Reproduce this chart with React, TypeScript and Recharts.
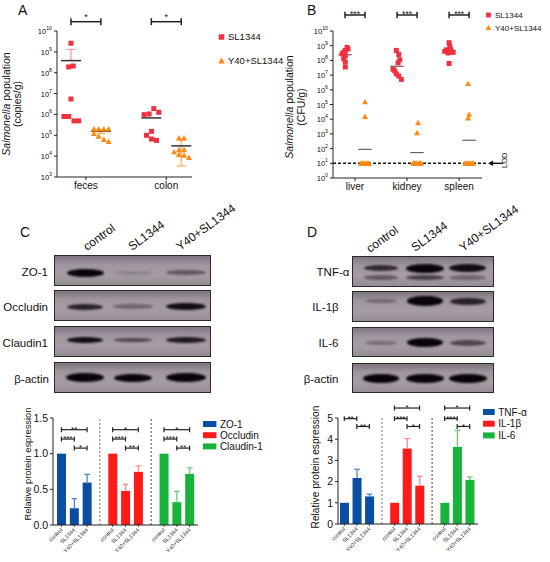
import React from 'react';
import {
  ScatterChart, Scatter, XAxis, YAxis, ReferenceLine, ReferenceDot,
  BarChart, Bar, Legend,
} from 'recharts';

const FONT = "Arial, 'Liberation Sans', Helvetica, sans-serif";

// ---------------- Panel A data ----------------
const A_CATEGORIES = ['feces', 'colon'];
const A_SERIES = ['SL1344', 'Y40+SL1344'];
const A_TICKS = [1e3, 1e4, 1e5, 1e6, 1e7, 1e8, 1e9, 1e10];
const A_FECES_SL = [2.6e9, 1.9e8, 2.1e8, 5.5e6, 8e5, 8e5, 4.9e5, 4.9e5];
const A_FECES_Y40 = [2.0e5, 2.0e5, 2.0e5, 2.0e5, 1.2e5, 9e4, 6.2e4, 5e4];
const A_COLON_SL = [9.8e5, 1.05e6, 1.9e6, 1.26e6, 1.0e5, 1.55e5, 6.6e4, 5.7e4];
const A_COLON_Y40 = [7.4e4, 7.4e4, 1.6e4, 2.0e4, 2.0e4, 1.2e4, 1.1e4, 8.5e3];
const A_MEAN_SL = [3.8e8, 6.8e5];
const A_MEAN_Y40 = [1.55e5, 3.1e4];
const A_ERR_SL = [[3.8e8, 1.3e9], null];
const A_ERR_Y40 = [[1.2e5, 1.9e5], [3.4e3, 6e4]];
const A_SIG = ['*', '*'];
const A_SIG_LEVEL = 10.446; // log10 of bracket height

// ---------------- Panel B data ----------------
const B_CATEGORIES = ['liver', 'kidney', 'spleen'];
const B_TICKS = [1, 1e1, 1e2, 1e3, 1e4, 1e5, 1e6, 1e7, 1e8, 1e9, 1e10];
const B_LIVER_SL = [7.7e8, 4.7e8, 6e8, 2.8e8, 3.6e8, 2.1e8, 1.3e8, 7.8e7, 3.6e7];
const B_LIVER_Y40 = [1.5e5, 1.5e4, 10, 10, 10, 10, 10, 10, 10];
const B_KIDNEY_SL = [4.8e8, 2.5e8, 1.1e8, 6.8e7, 1.9e7, 1.2e7, 8.5e6, 5.1e6, 2.5e7];
const B_KIDNEY_Y40 = [5.7e3, 1.2e3, 10, 10, 10, 10, 10, 10, 10];
const B_SPLEEN_SL = [1.6e9, 8.9e8, 5.2e8, 4.1e8, 3.2e8, 3.5e8, 4.1e8, 6.2e7, 5.5e8];
const B_SPLEEN_Y40 = [2.6e6, 2.1e4, 1.2e4, 10, 10, 10, 10, 10, 10];
const B_MEAN_SL = [2.4e8, 4e7, 4.5e8];
const B_MEAN_Y40 = [90, 53, 370];
const B_SIG = ['***', '***', '***'];
const B_LOD = 10;
const B_SIG_LEVEL = 11.09;

// ---------------- Panel C data ----------------
const LANES = ['control', 'SL1344', 'Y40+SL1344'];
const C_PROTEINS = ['ZO-1', 'Occludin', 'Claudin-1'];
const C_MEANS = [[1, 0.235, 0.595], [1, 0.478, 0.745], [1, 0.32, 0.717]];
const C_ERR = [[0, 0.135, 0.115], [0, 0.092, 0.085], [0, 0.15, 0.083]];
// [control vs Y40, control vs SL, SL vs Y40]
const C_SIG = [['**', '***', '*'], ['*', '***', '**'], ['*', '***', '**']];
const C_SIG_Y = [1.336, 1.205, 1.078];
const C_YTICKS = [0, 0.5, 1, 1.5];

// ---------------- Panel D data ----------------
const D_PROTEINS = ['TNF-α', 'IL-1β', 'IL-6'];
const D_MEANS = [[1, 2.17, 1.3], [1, 3.56, 1.81], [1, 3.64, 2.08]];
const D_ERR = [[0, 0.41, 0.11], [0, 0.47, 0.44], [0, 0.78, 0.14]];
const D_SIG = [[null, '**', '**'], ['*', '***', '*'], ['*', '***', '*']];
const D_SIG_Y = [5.47, 4.97, 4.6];
const D_YTICKS = [0, 1, 2, 3, 4, 5];

// ---------------- Blot band intensities ----------------
const C_BLOT_ROWS = ['ZO-1', 'Occludin', 'Claudin1', 'β-actin'];
const C_BLOT_INT = [[1, 0.15, 0.45], [0.8, 0.35, 0.95], [0.95, 0.55, 0.85], [1, 1, 1]];
const D_BLOT_ROWS = ['TNF-α', 'IL-1β', 'IL-6', 'β-actin'];
const D_BLOT_INT = [[0.75, 1, 0.95], [0.3, 1, 0.8], [0.3, 1, 0.55], [1, 1, 1]];
const D_TNF_LOWER_INT = [0.45, 0.6, 0.35];

// ---------------- styles / layout ----------------
const RED = '#f0303f';
const ORANGE = '#ff8a10';
const RED_ERR = '#f7a0a5';
const ORANGE_ERR = '#ffb36b';
const BAR_COLORS = ['#0a4ea3', '#ff1a1a', '#18b33a'];
const BAR_ERR_COLORS = ['#4a86d6', '#ff8a8a', '#63cf73'];
const INK = '#222';

const A_UNIT = 80.5; // px per category unit in panel A
const A_OFF = 15 / A_UNIT;
const A_DOMAIN = [0.64, 2.32];
const B_UNIT = 52;
const B_OFF = 10 / B_UNIT;
const B_DOMAIN = [0.577, 3.44];

const JIT_A = {
  fecesSL: [0, -2.3, 2.3, 0, -7, -2.3, 3, 7.7],
  fecesY40: [-7, -2.3, 3, 7.7, -7, -2.3, 3, 7.7],
  colonSL: [-7.2, -2.2, 2.5, 7.5, -4.8, 0.2, 0.2, 5.2],
  colonY40: [-2.2, 2.8, -7.2, -2.2, 2.8, -2.2, 2.8, 7.8],
};
const JIT_B = {
  liverSL: [2, 0.3, 3, -3, -1.3, 0.3, -1.3, 0.3, 0.3],
  liverY40: [0, 0, -4, -2, 0, 2, 4, -3, 3],
  kidneySL: [-0.7, 1.7, 2.7, 1, -2.3, -0.7, 1.7, 4.3, -4],
  kidneyY40: [1, 0, -4, -2, 0, 2, 4, -3, 3],
  spleenSL: [0, 0.7, -2.7, 2.3, -1, 4, -4.3, 0, 1.5],
  spleenY40: [-1, 0, -1, -4, -2, 0, 2, 4, 3],
};

const pts = (values: number[], center: number, jit: number[], unit: number) =>
  values.map((v, i) => ({ x: center + jit[i] / unit, y: v }));

const aSL = [
  ...pts(A_FECES_SL, 1 - A_OFF, JIT_A.fecesSL, A_UNIT),
  ...pts(A_COLON_SL, 2 - A_OFF, JIT_A.colonSL, A_UNIT),
];
const aY40 = [
  ...pts(A_FECES_Y40, 1 + A_OFF, JIT_A.fecesY40, A_UNIT),
  ...pts(A_COLON_Y40, 2 + A_OFF, JIT_A.colonY40, A_UNIT),
];
const bSL = [
  ...pts(B_LIVER_SL, 1 - B_OFF, JIT_B.liverSL, B_UNIT),
  ...pts(B_KIDNEY_SL, 2 - B_OFF, JIT_B.kidneySL, B_UNIT),
  ...pts(B_SPLEEN_SL, 3 - B_OFF, JIT_B.spleenSL, B_UNIT),
];
const bY40 = [
  ...pts(B_LIVER_Y40, 1 + B_OFF, JIT_B.liverY40, B_UNIT),
  ...pts(B_KIDNEY_Y40, 2 + B_OFF, JIT_B.kidneyY40, B_UNIT),
  ...pts(B_SPLEEN_Y40, 3 + B_OFF, JIT_B.spleenY40, B_UNIT),
];

function buildBarData(means: number[][], errs: number[][]) {
  const rows: any[] = [];
  means.forEach((g, gi) => {
    if (gi > 0) rows.push({ id: 'gap' + gi, label: '', value: null, err: 0, group: -1 });
    g.forEach((v, li) => rows.push({ id: `g${gi}l${li}`, label: LANES[li], value: v, err: errs[gi][li], group: gi }));
  });
  return rows;
}
const cData = buildBarData(C_MEANS, C_ERR);
const dData = buildBarData(D_MEANS, D_ERR);
const labelsOf = (rows: any[]) => Object.fromEntries(rows.map((r) => [r.id, r.label]));
const cLabels = labelsOf(cData);
const dLabels = labelsOf(dData);

// ---------------- shapes ----------------
const Square = (p: any) => (
  <rect x={p.cx - 2.5} y={p.cy - 2.5} width={5} height={5} fill={RED} />
);
const Triangle = (p: any) => (
  <polygon points={`${p.cx},${p.cy - 3} ${p.cx + 3},${p.cy + 2.4} ${p.cx - 3},${p.cy + 2.4}`} fill={ORANGE} />
);

const PowTick = (props: any) => {
  const { x, y, payload } = props;
  const e = Math.round(Math.log10(payload.value));
  return (
    <text x={x} y={y} textAnchor="end" fontSize={7.6} fill="#111">
      <tspan dy={3}>10</tspan>
      <tspan dy={-4} fontSize={5.2}>{e}</tspan>
    </text>
  );
};

const makeBarTick = (labels: Record<string, string>) => (props: any) => {
  const { x, y, payload } = props;
  const label = labels[payload.value];
  if (!label) return <g />;
  return (
    <g>
      <line x1={x} x2={x} y1={y - 3} y2={y - 1} stroke={INK} strokeWidth={0.8} />
      <text transform={`translate(${x},${y + 1}) rotate(-45)`} textAnchor="end" dy="0.35em" fontSize={5.5} fill="#222">
        {label}
      </text>
    </g>
  );
};

const BarWithErr = (props: any) => {
  const { x, y, width, height, payload } = props;
  if (payload == null || payload.value == null || !height) return <g />;
  const ppu = height / payload.value;
  const errPx = payload.err * ppu;
  const cx = x + width / 2;
  return (
    <g>
      <rect x={x} y={y} width={width} height={height} fill={BAR_COLORS[payload.group]} />
      {payload.err > 0 && (
        <g stroke={BAR_ERR_COLORS[payload.group]} strokeWidth={1.3}>
          <line x1={cx} x2={cx} y1={y} y2={y - errPx} />
          <line x1={cx - 2.8} x2={cx + 2.8} y1={y - errPx} y2={y - errPx} />
        </g>
      )}
    </g>
  );
};

// bracket helpers
const bracket = (key: string, x1: any, x2: any, y: number, yLo: number, yHi: number, text: string,
  fontSize: number, offset: number, sw = 1.2) => [
  <ReferenceLine key={key + 'h'} segment={[{ x: x1, y }, { x: x2, y }]} stroke={INK} strokeWidth={sw}
    ifOverflow="visible" label={{ value: text, position: 'top', offset, fontSize, fill: '#111' }} />,
  <ReferenceLine key={key + 'l'} segment={[{ x: x1, y: yLo }, { x: x1, y: yHi }]} stroke={INK} strokeWidth={sw} ifOverflow="visible" />,
  <ReferenceLine key={key + 'r'} segment={[{ x: x2, y: yLo }, { x: x2, y: yHi }]} stroke={INK} strokeWidth={sw} ifOverflow="visible" />,
];

const hLine = (key: string, xc: number, half: number, y: number, color: string, sw: number) => (
  <ReferenceLine key={key} segment={[{ x: xc - half, y }, { x: xc + half, y }]} stroke={color} strokeWidth={sw} ifOverflow="visible" />
);
const vLine = (key: string, xc: number, y1: number, y2: number, color: string, sw: number) => (
  <ReferenceLine key={key} segment={[{ x: xc, y: y1 }, { x: xc, y: y2 }]} stroke={color} strokeWidth={sw} ifOverflow="visible" />
);

// legends
const ScatterLegend = ({ rowGap, fontSize, sq }: any) => (
  <svg width={90} height={rowGap + 14} style={{ overflow: 'visible', display: 'block' }}>
    {A_SERIES.map((name, i) => {
      const cy = 6 + i * rowGap;
      return (
        <g key={name}>
          {i === 0 ? (
            <rect x={5.5 - sq / 2} y={cy - sq / 2} width={sq} height={sq} fill={RED} />
          ) : (
            <polygon points={`5.5,${cy - sq / 2 - 0.5} ${5.5 + sq / 2 + 0.5},${cy + sq / 2} ${5.5 - sq / 2 - 0.5},${cy + sq / 2}`} fill={ORANGE} />
          )}
          <text x={12} y={cy} dy="0.35em" fontSize={fontSize} fill="#111" fontFamily={FONT}>{name}</text>
        </g>
      );
    })}
  </svg>
);

const BarLegend = ({ names, rectW, rowGap, fontSize }: any) => (
  <svg width={80} height={rowGap * 3 + 6} style={{ overflow: 'visible', display: 'block' }}>
    {names.map((n: string, i: number) => {
      const cy = 6 + i * rowGap;
      return (
        <g key={n}>
          <rect x={0} y={cy - 3} width={rectW} height={6} fill={BAR_COLORS[i]} />
          <text x={rectW + 3.5} y={cy} dy="0.35em" fontSize={fontSize} fill="#111" fontFamily={FONT}>{n}</text>
        </g>
      );
    })}
  </svg>
);

// ---------------- Panel A ----------------
const PanelA = () => {
  const refs: any[] = [];
  A_CATEGORIES.forEach((c, ci) => {
    const xs = ci + 1 - A_OFF;
    const xy = ci + 1 + A_OFF;
    const es = A_ERR_SL[ci];
    if (es) {
      refs.push(vLine(`aes${ci}`, xs, es[0], es[1], RED_ERR, 1.3));
      refs.push(hLine(`aesc${ci}`, xs, 4.5 / A_UNIT, es[1], RED_ERR, 1.3));
    }
    const ey = A_ERR_Y40[ci];
    if (ey) {
      refs.push(vLine(`aey${ci}`, xy, ey[0], ey[1], ORANGE_ERR, 1.3));
      refs.push(hLine(`aeyc1${ci}`, xy, 4.5 / A_UNIT, ey[0], ORANGE_ERR, 1.3));
      refs.push(hLine(`aeyc2${ci}`, xy, 4.5 / A_UNIT, ey[1], ORANGE_ERR, 1.3));
    }
    refs.push(hLine(`ams${ci}`, xs, 10 / A_UNIT, A_MEAN_SL[ci], '#333', 1.5));
    refs.push(hLine(`amy${ci}`, xy, 10 / A_UNIT, A_MEAN_Y40[ci], '#333', 1.5));
    refs.push(...bracket(`asig${ci}`, xs, xy, Math.pow(10, A_SIG_LEVEL), Math.pow(10, A_SIG_LEVEL - 0.168),
      Math.pow(10, A_SIG_LEVEL + 0.168), A_SIG[ci], 9, 1.5, 1.5));
  });
  return (
    <ScatterChart width={290} height={200} margin={{ top: 31, right: 98, bottom: 3, left: 27 }}>
      <XAxis type="number" dataKey="x" domain={A_DOMAIN} ticks={[1, 2]} allowDataOverflow interval={0}
        tickFormatter={(v: number) => A_CATEGORIES[Math.round(v) - 1]} height={20}
        tick={{ fontSize: 10, fill: '#111' }} tickSize={3} stroke={INK} />
      <YAxis type="number" dataKey="y" scale="log" domain={[1e3, 1e10]} ticks={A_TICKS} allowDataOverflow interval={0}
        tick={PowTick} width={30} tickSize={3} stroke={INK}
        label={() => (
          <g fontSize={10.5} fill="#111">
            <text transform="translate(10,104) rotate(-90)" textAnchor="middle">
              <tspan fontStyle="italic">Salmonella</tspan> population
            </text>
            <text transform="translate(21,104) rotate(-90)" textAnchor="middle">(copies/g)</text>
          </g>
        )} />
      <Scatter name={A_SERIES[0]} data={aSL} shape={Square} fill={RED} isAnimationActive={false} />
      <Scatter name={A_SERIES[1]} data={aY40} shape={Triangle} fill={ORANGE} isAnimationActive={false} />
      {refs}
      <Legend layout="vertical" align="center" verticalAlign="middle"
        wrapperStyle={{ left: 216, top: 31, width: 90 }}
        content={() => <ScatterLegend rowGap={23.7} fontSize={9.5} sq={5.5} />} />
    </ScatterChart>
  );
};

// ---------------- Panel B ----------------
const PanelB = () => {
  const refs: any[] = [];
  B_CATEGORIES.forEach((c, ci) => {
    const xs = ci + 1 - B_OFF;
    const xy = ci + 1 + B_OFF;
    refs.push(hLine(`bms${ci}`, xs, 6.7 / B_UNIT, B_MEAN_SL[ci], '#444', 1));
    refs.push(hLine(`bmy${ci}`, xy, 6.7 / B_UNIT, B_MEAN_Y40[ci], '#444', 1));
    refs.push(...bracket(`bsig${ci}`, xs, xy, Math.pow(10, B_SIG_LEVEL), Math.pow(10, B_SIG_LEVEL - 0.225),
      Math.pow(10, B_SIG_LEVEL + 0.225), B_SIG[ci], 8.5, -2.5, 1.5));
  });
  return (
    <ScatterChart width={275} height={200} margin={{ top: 31, right: 68, bottom: 2, left: 28 }}>
      <XAxis type="number" dataKey="x" domain={B_DOMAIN} ticks={[1, 2, 3]} allowDataOverflow interval={0}
        tickFormatter={(v: number) => B_CATEGORIES[Math.round(v) - 1]} height={20}
        tick={{ fontSize: 10, fill: '#111' }} tickSize={3} stroke={INK} />
      <YAxis type="number" dataKey="y" scale="log" domain={[1, 1e10]} ticks={B_TICKS} allowDataOverflow interval={0}
        tick={PowTick} width={30} tickSize={3} stroke={INK}
        label={() => (
          <g fontSize={10.5} fill="#111">
            <text transform="translate(18,107) rotate(-90)" textAnchor="middle">
              <tspan fontStyle="italic">Salmonella</tspan> population
            </text>
            <text transform="translate(29.5,107) rotate(-90)" textAnchor="middle">(CFU/g)</text>
          </g>
        )} />
      <Scatter name={A_SERIES[0]} data={bSL} shape={Square} fill={RED} isAnimationActive={false} />
      <Scatter name={A_SERIES[1]} data={bY40} shape={Triangle} fill={ORANGE} isAnimationActive={false} />
      {refs}
      <ReferenceLine segment={[{ x: B_DOMAIN[0], y: B_LOD }, { x: 3.555, y: B_LOD }]} stroke="#111"
        strokeWidth={1.6} strokeDasharray="3 2" ifOverflow="visible" />
      <ReferenceDot x={3.7} y={B_LOD} r={1} ifOverflow="visible"
        shape={(p: any) => (
          <g>
            <line x1={p.cx - 3} x2={p.cx + 7.5} y1={p.cy} y2={p.cy} stroke="#111" strokeWidth={1.4} />
            <polygon points={`${p.cx - 7.5},${p.cy} ${p.cx - 2.5},${p.cy - 2.8} ${p.cx - 2.5},${p.cy + 2.8}`} fill="#111" />
            <text transform={`translate(${p.cx + 11.5},${p.cy - 3}) rotate(-90)`} textAnchor="middle"
              fontSize={7.5} fill="#111">LOD</text>
          </g>
        )} />
      <Legend layout="vertical" align="center" verticalAlign="middle"
        wrapperStyle={{ left: 208, top: 9, width: 90 }}
        content={() => <ScatterLegend rowGap={12.7} fontSize={8} sq={4.8} />} />
    </ScatterChart>
  );
};

// ---------------- bar panels ----------------
const barRefs = (prefix: string, sig: any[][], levels: number[], cap: number) => {
  const out: any[] = [];
  sig.forEach((g, gi) => {
    const pairs = [[0, 2], [0, 1], [1, 2]];
    pairs.forEach(([a, b], k) => {
      const t = g[k];
      if (!t) return;
      const y = levels[k];
      out.push(...bracket(`${prefix}${gi}${k}`, `g${gi}l${a}`, `g${gi}l${b}`, y, y - cap, y + cap, t, 8, -2.2, 1.2));
    });
  });
  return out;
};

const PanelC = () => (
  <BarChart width={280} height={162} data={cData} margin={{ top: 18, right: 82, bottom: 0, left: 20 }} barSize={9}>
    <XAxis dataKey="id" height={37} padding={{ left: 2, right: 2 }} interval={0} tickLine={false}
      tick={makeBarTick(cLabels)} tickSize={2} tickMargin={1} stroke={INK} />
    <YAxis domain={[0, 1.5]} ticks={C_YTICKS} allowDataOverflow interval={0} tickFormatter={(v: number) => v.toFixed(1)}
      width={33} tick={{ fontSize: 10.5, fill: '#111' }} tickSize={3} stroke={INK}
      label={() => (
        <text transform="translate(28,64) rotate(-90)" textAnchor="middle" dy="0.35em" fontSize={9.4} fill="#111">
          Relative protein espression
        </text>
      )} />
    <ReferenceLine x="gap1" stroke="#777" strokeDasharray="2 2" strokeWidth={1} />
    <ReferenceLine x="gap2" stroke="#444" strokeDasharray="2 2" strokeWidth={1} />
    <Bar dataKey="value" shape={BarWithErr} isAnimationActive={false} />
    {barRefs('c', C_SIG, C_SIG_Y, 0.035)}
    <Legend layout="vertical" align="center" verticalAlign="middle"
      wrapperStyle={{ left: 203.3, top: 18.3, width: 80 }}
      content={() => <BarLegend names={C_PROTEINS} rectW={13.4} rowGap={11.2} fontSize={10} />} />
  </BarChart>
);

const PanelD = () => (
  <BarChart width={265} height={162} data={dData} margin={{ top: 18, right: 72, bottom: 0, left: 20 }} barSize={9}>
    <XAxis dataKey="id" height={38} padding={{ left: 0, right: 2 }} interval={0} tickLine={false}
      tick={makeBarTick(dLabels)} tickSize={2} tickMargin={1} stroke={INK} />
    <YAxis domain={[0, 5]} ticks={D_YTICKS} allowDataOverflow interval={0} width={33}
      tick={{ fontSize: 10.5, fill: '#111' }} tickSize={3} stroke={INK}
      label={() => (
        <text transform="translate(30,67) rotate(-90)" textAnchor="middle" dy="0.35em" fontSize={10.2} fill="#111">
          Relative protein espression
        </text>
      )} />
    <ReferenceLine x="gap1" stroke="#777" strokeDasharray="2 2" strokeWidth={1} />
    <ReferenceLine x="gap2" stroke="#444" strokeDasharray="2 2" strokeWidth={1} />
    <Bar dataKey="value" shape={BarWithErr} isAnimationActive={false} />
    {barRefs('d', D_SIG, D_SIG_Y, 0.117)}
    <Legend layout="vertical" align="center" verticalAlign="middle"
      wrapperStyle={{ left: 198.3, top: 5.7, width: 80 }}
      content={() => <BarLegend names={D_PROTEINS} rectW={11.7} rowGap={11.7} fontSize={10} />} />
  </BarChart>
);

// ---------------- blots ----------------
const BLOT_BG = 'linear-gradient(180deg, #7f7580 0%, #9f969f 30%, #a59ca5 65%, #958c95 100%)';

const Band = ({ cx, cy, w, h, a }: any) => (
  <div style={{
    position: 'absolute', left: cx - w / 2, top: cy - h / 2, width: w, height: h,
    borderRadius: '50%', background: `rgba(8,4,8,${a})`, filter: 'blur(1.3px)',
  }} />
);

const BlotBox = ({ left, top, width, height, children }: any) => (
  <div style={{
    position: 'absolute', left, top, width, height, background: BLOT_BG,
    border: '1px solid #2a2a2a', boxSizing: 'border-box', overflow: 'hidden',
  }}>{children}</div>
);

const C_BLOT = { left: 54, width: 157, height: 31, tops: [255, 290, 326, 362], lanes: [30, 78, 131],
  bandW: [[37, 40, 40], [36, 40, 40], [36, 38, 40], [38, 38, 40]],
  bandH: [[8, 4, 5], [6, 5, 7], [6, 4, 6], [9, 8, 9]], dy: [1, 0, -3, -1] };
const D_BLOT = { left: 352, width: 142, height: 30.5, tops: [256, 291, 326.5, 362.5], lanes: [28, 71.5, 114.5],
  bandW: [[34, 38, 37], [32, 36, 36], [32, 36, 36], [36, 38, 38]],
  bandH: [[6, 9, 8], [4, 10, 7], [4, 9, 6], [9, 9, 9]], dy: [-4, -6, 0, 0] };

const Blots = () => (
  <>
    {C_BLOT_ROWS.map((name, r) => (
      <BlotBox key={'c' + r} left={C_BLOT.left} top={C_BLOT.tops[r]} width={C_BLOT.width} height={C_BLOT.height}>
        {C_BLOT_INT[r].map((a, l) => (
          <Band key={l} cx={C_BLOT.lanes[l]} cy={C_BLOT.height / 2 + C_BLOT.dy[r]} w={C_BLOT.bandW[r][l]} h={C_BLOT.bandH[r][l]} a={a} />
        ))}
      </BlotBox>
    ))}
    {D_BLOT_ROWS.map((name, r) => (
      <BlotBox key={'d' + r} left={D_BLOT.left} top={D_BLOT.tops[r]} width={D_BLOT.width} height={D_BLOT.height}>
        {D_BLOT_INT[r].map((a, l) => (
          <Band key={l} cx={D_BLOT.lanes[l]} cy={D_BLOT.height / 2 + D_BLOT.dy[r]} w={D_BLOT.bandW[r][l]} h={D_BLOT.bandH[r][l]} a={a} />
        ))}
        {r === 0 && D_TNF_LOWER_INT.map((a, l) => (
          <Band key={'lo' + l} cx={D_BLOT.lanes[l]} cy={D_BLOT.height / 2 + 5.5} w={D_BLOT.bandW[r][l]} h={5} a={a} />
        ))}
      </BlotBox>
    ))}
  </>
);

// ---------------- static text overlay ----------------
const C_ROW_LABEL_X = 48;
const D_ROW_LABEL_X = [333, 325.5, 328.5, 321];
const C_HEAD = [[87, 251], [132, 251], [180, 251]];
const D_HEAD = [[370, 253], [415, 252], [463, 252]];

const Overlay = () => (
  <svg width={550} height={562} style={{ position: 'absolute', left: 0, top: 0, pointerEvents: 'none' }}>
    <g fontSize={14} fill="#111">
      <text x={18} y={15}>A</text>
      <text x={307} y={15}>B</text>
      <text x={20} y={237}>C</text>
      <text x={307} y={237}>D</text>
    </g>
    <g fontSize={11.5} fill="#111">
      {C_BLOT_ROWS.map((n, r) => (
        <text key={n} x={C_ROW_LABEL_X + (r === 3 ? 1 : 0)} y={C_BLOT.tops[r] + C_BLOT.height / 2 + 1} dy="0.35em" textAnchor="end">{n}</text>
      ))}
      {D_BLOT_ROWS.map((n, r) => (
        <text key={n} x={D_ROW_LABEL_X[r]} y={D_BLOT.tops[r] + D_BLOT.height / 2 + 1} dy="0.35em" textAnchor="middle">{n}</text>
      ))}
    </g>
    <g fontSize={12} fill="#111">
      {LANES.map((n, i) => (
        <text key={'ch' + i} transform={`translate(${C_HEAD[i][0]},${C_HEAD[i][1]}) rotate(-36)`}>{n}</text>
      ))}
      {LANES.map((n, i) => (
        <text key={'dh' + i} transform={`translate(${D_HEAD[i][0]},${D_HEAD[i][1]}) rotate(-36)`}>{n}</text>
      ))}
    </g>
  </svg>
);

export default function App() {
  return (
    <div style={{ position: 'absolute', left: 0, top: 0, width: 550, height: 562, background: '#fff', fontFamily: FONT, overflow: 'hidden' }}>
      <div style={{ position: 'absolute', left: 0, top: 0 }}><PanelA /></div>
      <div style={{ position: 'absolute', left: 275, top: 0 }}><PanelB /></div>
      <Blots />
      <div style={{ position: 'absolute', left: 0, top: 400 }}><PanelC /></div>
      <div style={{ position: 'absolute', left: 285, top: 400 }}><PanelD /></div>
      <Overlay />
    </div>
  );
}
